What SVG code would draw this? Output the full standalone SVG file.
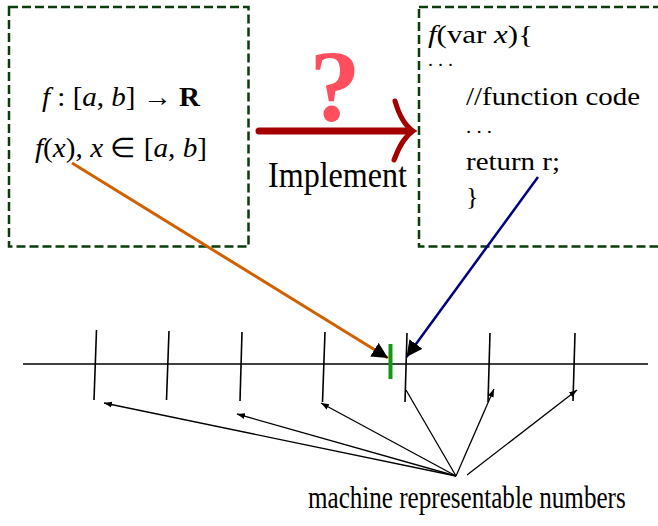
<svg xmlns="http://www.w3.org/2000/svg" width="658" height="526" viewBox="0 0 658 526">
<defs>
<style>
.box{fill:none;stroke:#0a3d0a;stroke-width:2.5;stroke-dasharray:9 4}
.t{font-family:"Liberation Serif","Times New Roman",serif;fill:#000}
.i{font-style:italic}
.tick{stroke:#000;stroke-width:1.6;fill:none}
.ptr{stroke:#000;stroke-width:1.3;fill:none}
</style>
<marker id="sm" markerUnits="userSpaceOnUse" markerWidth="10" markerHeight="8" refX="8" refY="4" orient="auto">
<path d="M0,1 L8,4 L0,7 z" fill="#000"/>
</marker>
<marker id="bm" markerUnits="userSpaceOnUse" markerWidth="18" markerHeight="16" refX="16" refY="8" orient="auto">
<path d="M0,0 L16,8 L0,16 z" fill="#000"/>
</marker>
</defs>
<rect width="658" height="526" fill="#fff"/>

<g id="spec">
<rect class="box" x="9" y="7" width="239.5" height="239.5"/>
<text class="t" x="42" y="106" font-size="27" textLength="158" lengthAdjust="spacingAndGlyphs"><tspan class="i">f</tspan> : [<tspan class="i">a</tspan>, <tspan class="i">b</tspan>] → <tspan font-weight="bold">R</tspan></text>
<text class="t" x="35" y="157" font-size="27" textLength="172" lengthAdjust="spacingAndGlyphs"><tspan class="i">f</tspan>(<tspan class="i">x</tspan>),  <tspan class="i">x</tspan> ∈ [<tspan class="i">a</tspan>, <tspan class="i">b</tspan>]</text>
</g>

<g id="code">
<rect class="box" x="419" y="7" width="260" height="239.5"/>
<text class="t" x="428" y="43" font-size="26" textLength="105" lengthAdjust="spacingAndGlyphs"><tspan class="i">f</tspan>(var <tspan class="i">x</tspan>){</text>
<text class="t" x="428" y="66" font-size="18" textLength="25" lengthAdjust="spacingAndGlyphs">. . .</text>
<text class="t" x="466" y="105" font-size="26" textLength="174" lengthAdjust="spacingAndGlyphs">//function code</text>
<text class="t" x="466" y="133" font-size="18" textLength="26" lengthAdjust="spacingAndGlyphs">. . .</text>
<text class="t" x="466" y="170" font-size="26" textLength="94" lengthAdjust="spacingAndGlyphs">return r;</text>
<text class="t" x="466" y="205" font-size="26">}</text>
</g>

<g id="implement">
<line x1="259" y1="131" x2="410" y2="131" stroke="#a50000" stroke-width="7" stroke-linecap="round"/>
<path d="M395,101 C399,115 404,125 413,131 C404,137 399,147 394,160" fill="none" stroke="#a50000" stroke-width="5" stroke-linecap="round"/>
<text class="t" x="335" y="121" font-size="102" font-weight="bold" text-anchor="middle" style="fill:#ff4f5e">?</text>
<text class="t" x="268" y="187" font-size="36" textLength="139" lengthAdjust="spacingAndGlyphs">Implement</text>
</g>

<g id="numberline">
<line x1="23" y1="364" x2="648" y2="364" stroke="#000" stroke-width="1.6"/>
<line class="tick" x1="96.5" y1="330" x2="94" y2="400"/>
<line class="tick" x1="169" y1="331" x2="166.5" y2="400"/>
<line class="tick" x1="242" y1="332" x2="240" y2="401"/>
<line class="tick" x1="325" y1="332" x2="322.5" y2="402"/>
<line class="tick" x1="407" y1="333" x2="405" y2="402"/>
<line class="tick" x1="490" y1="333" x2="488" y2="402"/>
<line class="tick" x1="575" y1="333" x2="573" y2="401"/>
<line x1="390.5" y1="344" x2="390.5" y2="379" stroke="#119911" stroke-width="4"/>
</g>

<g id="label">
<text class="t" transform="translate(308,508) scale(0.81,1)" x="0" y="0" font-size="31">machine representable numbers</text>
</g>

<g id="connectors">
<line x1="72" y1="163" x2="388" y2="358" stroke="#d06000" stroke-width="3" marker-end="url(#bm)"/>
<line x1="538" y1="177" x2="406.5" y2="357" stroke="#000080" stroke-width="2.5" marker-end="url(#bm)"/>
<line class="ptr" x1="456" y1="476" x2="104" y2="403" marker-end="url(#sm)"/>
<line class="ptr" x1="456" y1="476" x2="237" y2="414" marker-end="url(#sm)"/>
<line class="ptr" x1="456" y1="476" x2="321" y2="403" marker-end="url(#sm)"/>
<line class="ptr" x1="456" y1="476" x2="406" y2="390"/>
<line class="ptr" x1="456" y1="476" x2="494" y2="389" marker-end="url(#sm)"/>
<line class="ptr" x1="467" y1="475" x2="577" y2="390" marker-end="url(#sm)"/>
</g>
</svg>
